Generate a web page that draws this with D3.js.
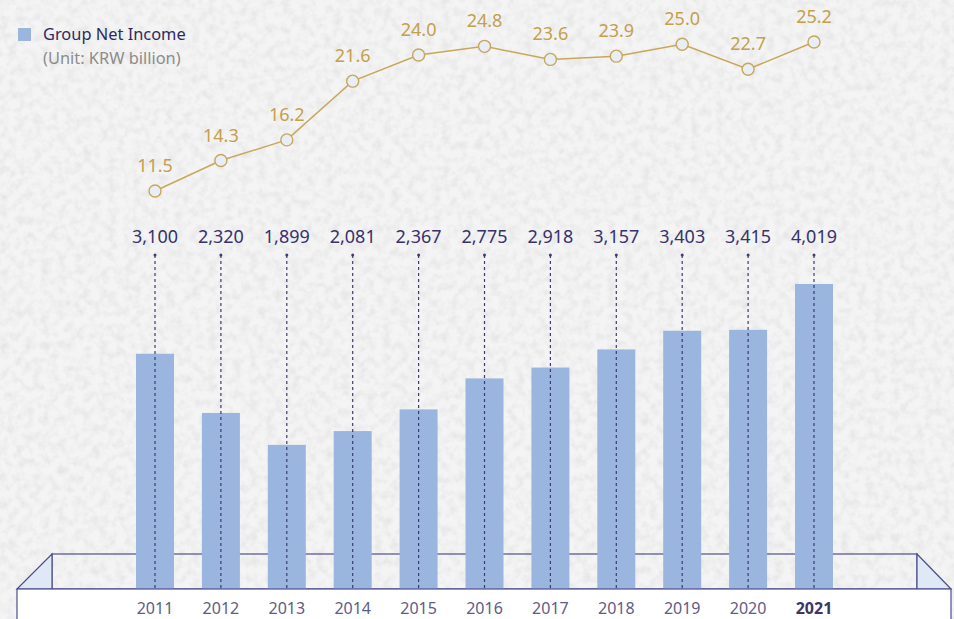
<!DOCTYPE html>
<html>
<head>
<meta charset="utf-8">
<script src="https://cdn.jsdelivr.net/npm/d3@7"></script>
<style>
  html, body { margin: 0; padding: 0; background: #f3f3f3; }
  svg { display: block; }
</style>
</head>
<body>
<div id="chart"></div>
<script>
const years = ["2011","2012","2013","2014","2015","2016","2017","2018","2019","2020","2021"];
const netIncome = [3100, 2320, 1899, 2081, 2367, 2775, 2918, 3157, 3403, 3415, 4019];
const netIncomeLabels = ["3,100","2,320","1,899","2,081","2,367","2,775","2,918","3,157","3,403","3,415","4,019"];
const lineValues = [11.5, 14.3, 16.2, 21.6, 24.0, 24.8, 23.6, 23.9, 25.0, 22.7, 25.2];
const legendTitle = "Group Net Income";
const legendUnit = "(Unit: KRW billion)";

const W = 954, H = 619;
const FONT = "'Noto Sans', 'Open Sans', sans-serif";
const svg = d3.select("#chart").append("svg").attr("width", W).attr("height", H);

// subtle paper texture background
const defs = svg.append("defs");
const f = defs.append("filter").attr("id", "paper").attr("x", 0).attr("y", 0).attr("width", "100%").attr("height", "100%");
f.append("feTurbulence").attr("type", "fractalNoise").attr("baseFrequency", 0.12).attr("numOctaves", 3).attr("seed", 5).attr("result", "noise");
f.append("feColorMatrix").attr("in", "noise").attr("type", "matrix")
  .attr("values", "0 0 0 0 0  0 0 0 0 0  0 0 0 0 0  0 0 0 -1.2 0.75");
svg.append("rect").attr("width", W).attr("height", H).attr("fill", "#f4f4f4");
svg.append("rect").attr("width", W).attr("height", H).attr("fill", "#d8d8d8").attr("filter", "url(#paper)").attr("opacity", 0.09);

const x = d3.scalePoint().domain(years).range([155, 814]);
const baseY = 589;
const yBar = d3.scaleLinear().domain([0, 4019]).range([baseY, 284]);
const yLine = d3.scaleLinear().domain([11.5, 25.2]).range([191, 42]);
const barW = 38;

// platform
const stroke = "#4c4f8e";
const plat = svg.append("g");
plat.append("rect").attr("x", 52).attr("y", 554).attr("width", 917 - 52).attr("height", baseY - 554)
  .attr("fill", "none").attr("stroke", stroke).attr("stroke-width", 1.2);
plat.append("path").attr("d", `M17,${baseY} L52,554 L52,${baseY} Z`).attr("fill", "#dfe9f6").attr("stroke", stroke).attr("stroke-width", 1.2);
plat.append("path").attr("d", `M917,554 L951,${baseY} L917,${baseY} Z`).attr("fill", "#dfe9f6").attr("stroke", stroke).attr("stroke-width", 1.2);

// bars
svg.append("g").selectAll("rect").data(years).join("rect")
  .attr("x", d => x(d) - barW / 2)
  .attr("y", (d, i) => yBar(netIncome[i]))
  .attr("width", barW)
  .attr("height", (d, i) => baseY - yBar(netIncome[i]))
  .attr("fill", "#9ab6de");

// front face
svg.append("rect").attr("x", 17).attr("y", baseY).attr("width", 951 - 17).attr("height", 40)
  .attr("fill", "#ffffff").attr("stroke", stroke).attr("stroke-width", 1.2);

// dotted guides
const guides = svg.append("g");
guides.selectAll("line").data(years).join("line")
  .attr("x1", d => x(d)).attr("x2", d => x(d))
  .attr("y1", 255).attr("y2", baseY)
  .attr("stroke", "#3e3a78").attr("stroke-width", 1.2).attr("stroke-dasharray", "3,3");
guides.selectAll("circle").data(years).join("circle")
  .attr("cx", d => x(d)).attr("cy", 255).attr("r", 1.5).attr("fill", "#3e3a78");

// value labels
svg.append("g").selectAll("text").data(years).join("text")
  .attr("x", d => x(d)).attr("y", 243)
  .attr("text-anchor", "middle")
  .attr("font-family", FONT).attr("font-size", 18).attr("fill", "#36326d")
  .text((d, i) => netIncomeLabels[i]);

// year labels
svg.append("g").selectAll("text").data(years).join("text")
  .attr("x", d => x(d)).attr("y", 614)
  .attr("text-anchor", "middle")
  .attr("font-family", FONT).attr("font-size", 16)
  .attr("font-weight", (d, i) => i === years.length - 1 ? "bold" : "normal")
  .attr("fill", (d, i) => i === years.length - 1 ? "#3a3668" : "#5e5c88")
  .text(d => d);

// line
const line = d3.line().x((d, i) => x(years[i])).y(d => yLine(d));
svg.append("path").datum(lineValues).attr("d", line)
  .attr("fill", "none").attr("stroke", "#c8a75a").attr("stroke-width", 1.5);
svg.append("g").selectAll("circle").data(lineValues).join("circle")
  .attr("cx", (d, i) => x(years[i])).attr("cy", d => yLine(d)).attr("r", 6)
  .attr("fill", "#e9eef6").attr("stroke", "#c8a75a").attr("stroke-width", 1.4);
svg.append("g").selectAll("text").data(lineValues).join("text")
  .attr("x", (d, i) => x(years[i])).attr("y", d => yLine(d) - 19)
  .attr("text-anchor", "middle")
  .attr("font-family", FONT).attr("font-size", 18).attr("fill", "#c4a04c")
  .text(d => d.toFixed(1));

// legend
const lg = svg.append("g");
lg.append("rect").attr("x", 18).attr("y", 28).attr("width", 13).attr("height", 13).attr("fill", "#9ab6de");
lg.append("text").attr("x", 43).attr("y", 40).attr("font-family", FONT).attr("font-size", 16.4)
  .attr("fill", "#2d2a60").text(legendTitle);
lg.append("text").attr("x", 43).attr("y", 64).attr("font-family", FONT).attr("font-size", 16.4)
  .attr("fill", "#8c8c8c").text(legendUnit);
</script>
</body>
</html>
